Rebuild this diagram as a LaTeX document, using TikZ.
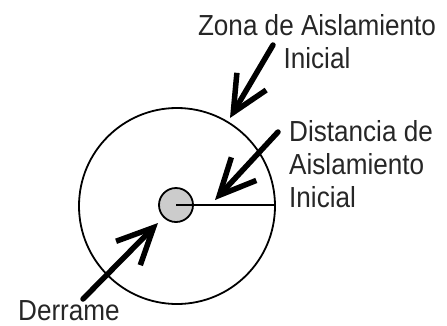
\documentclass[tikz,border=0pt]{standalone}
\usepackage{fontspec}
\setmainfont{Liberation Sans}[FakeStretch=0.9]
\usetikzlibrary{arrows.meta}

\tikzset{
  thinline/.style={line width=1.8pt},
  bigarrow/.style={line width=5.5pt, line cap=round, -{Straight Barb[length=36pt,width=34pt]}},
  lbl/.style={inner sep=0pt, text=black!85, font=\fontsize{29}{33}\selectfont}
}

\begin{document}
\begin{tikzpicture}[x=1pt,y=-1pt]
\useasboundingbox (0,0) rectangle (447,325);

% zone and spill
\node[thinline, draw, circle, minimum size=196pt, inner sep=0pt] (zone) at (177,206) {};
\node[thinline, draw, circle, fill=black!20, minimum size=34pt, inner sep=0pt] (spill) at (176,205) {};
\draw[thinline] (spill.center) -- (spill.center -| zone.east);

% labels
\node[lbl, anchor=north, align=center] (zonelbl) at (317,14) {Zona de Aislamiento\\Inicial};
\node[lbl, anchor=north west, align=left] (distlbl) at (289,120) {Distancia de\\Aislamiento\\Inicial};
\node[lbl, anchor=base west] (spilllbl) at (18,320) {Derrame};

% arrows
\coordinate (z0) at (273,45);  \coordinate (z1) at (230,118);
\coordinate (d0) at (278,132); \coordinate (d1) at (215,200);
\coordinate (s0) at (83,299);  \coordinate (s1) at (158,223);
\draw[bigarrow] (z0) -- (z1);
\draw[bigarrow] (d0) -- (d1);
\draw[bigarrow] (s0) -- (s1);

\end{tikzpicture}
\end{document}
